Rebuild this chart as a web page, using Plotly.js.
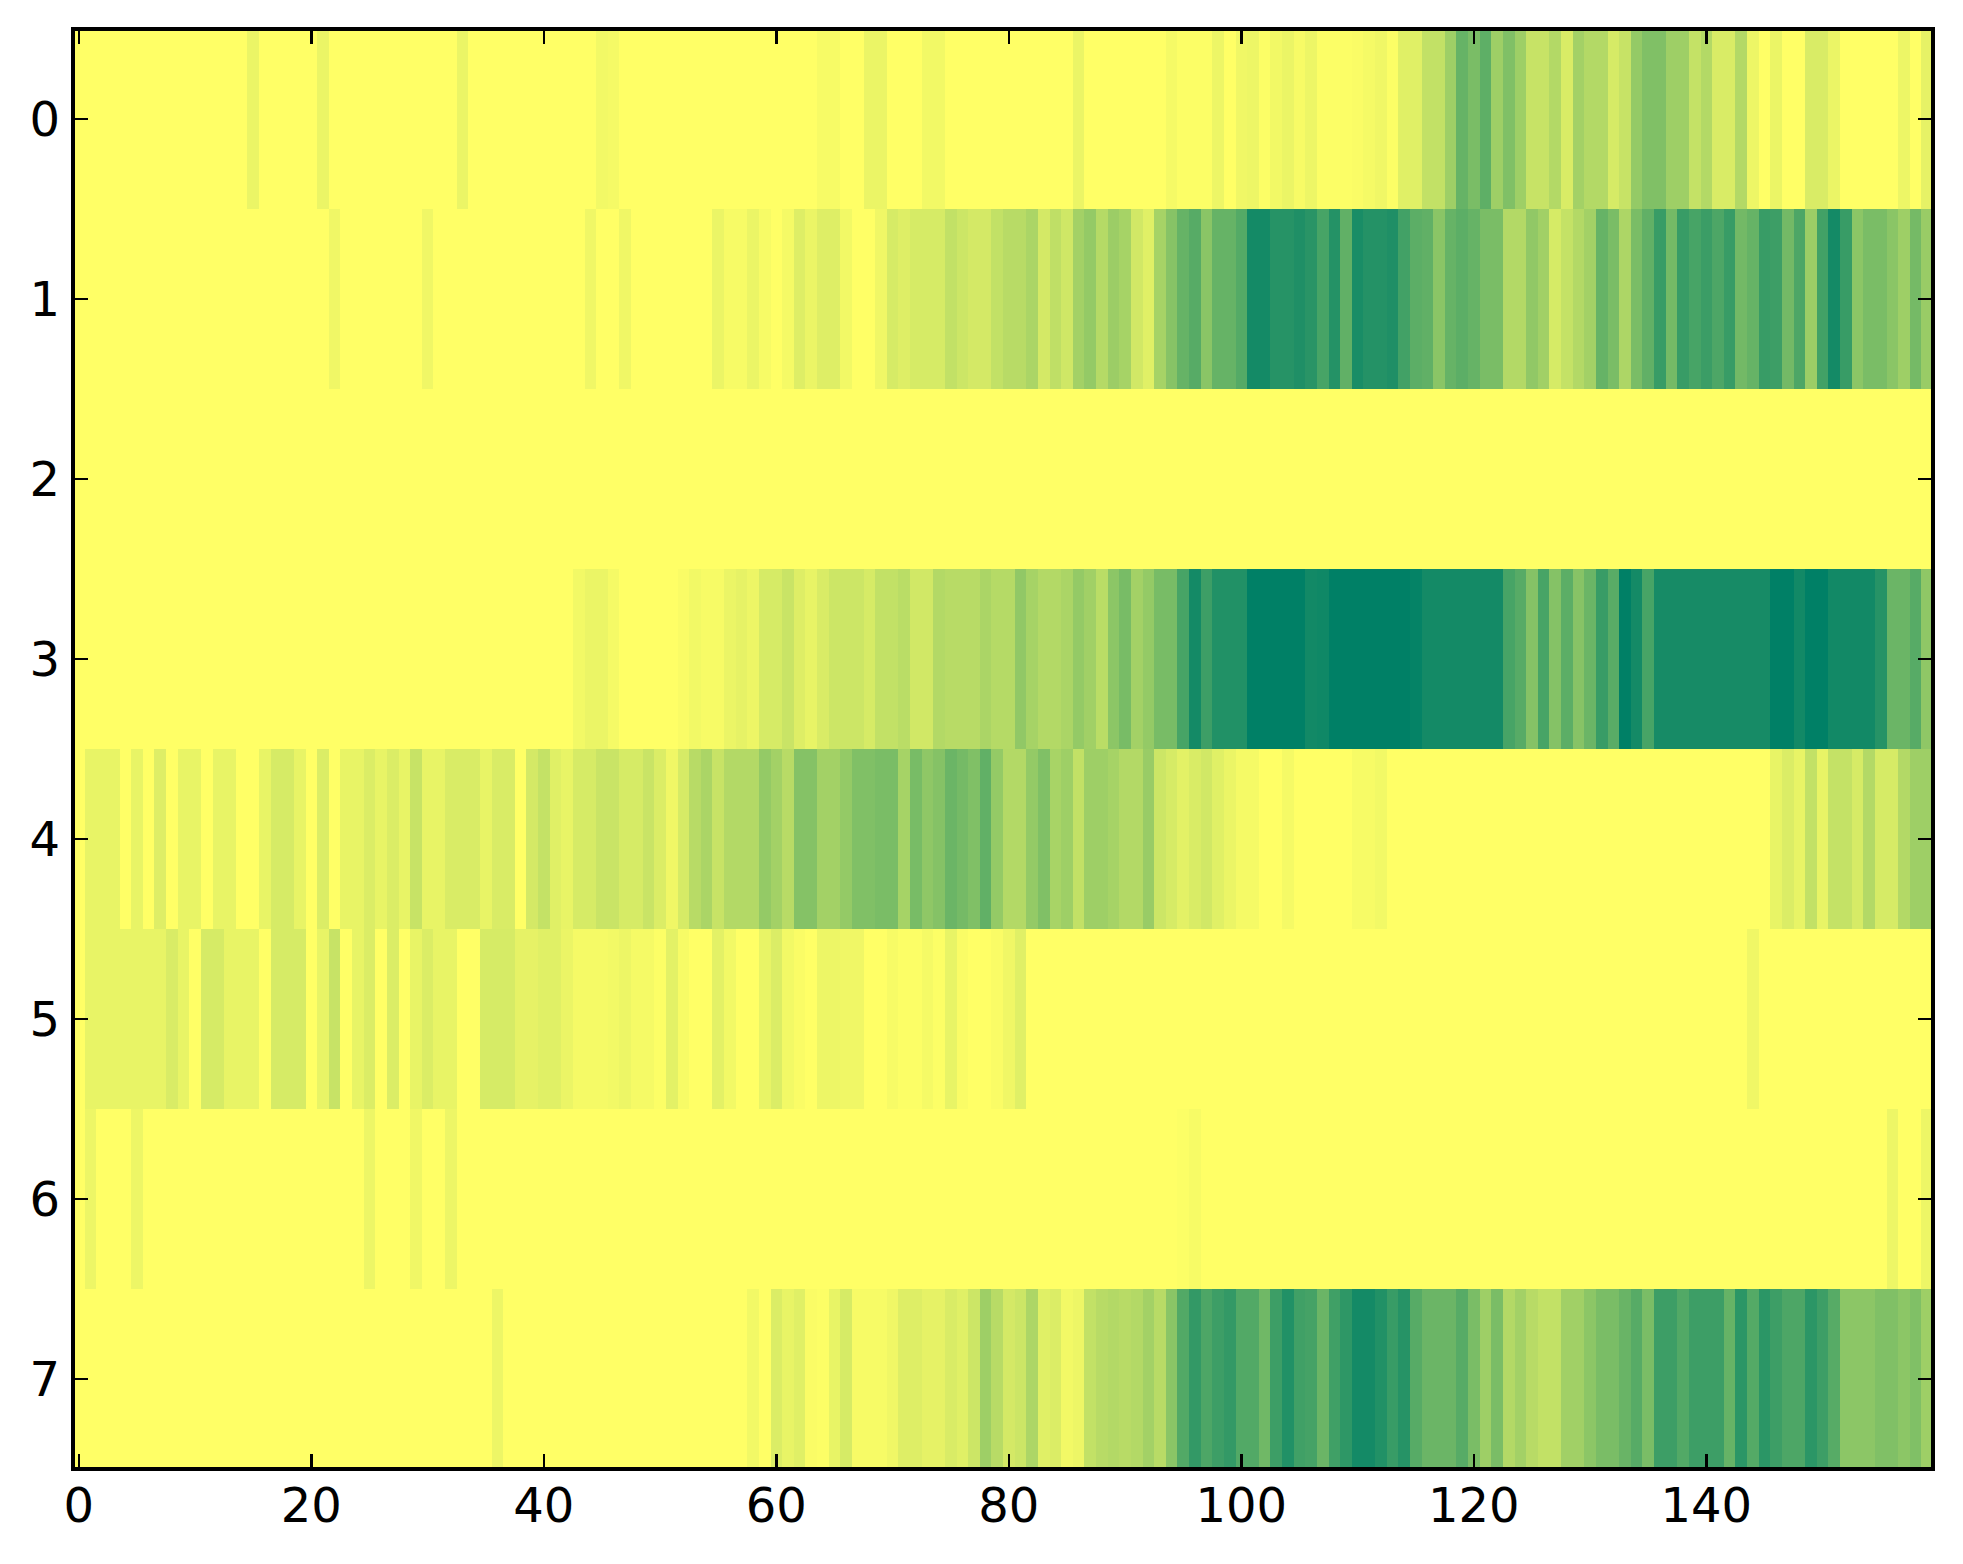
<!DOCTYPE html>
<html>
<head>
<meta charset="utf-8">
<script src="https://cdn.plot.ly/plotly-3.0.1.min.js"></script>
<style>html,body{margin:0;padding:0;background:#fff}</style>
</head>
<body>
<div id="chart" style="width:1963px;height:1564px"></div>
<script>
const xTicks = [0, 20, 40, 60, 80, 100, 120, 140];
const yTicks = [0, 1, 2, 3, 4, 5, 6, 7];
const row0 = [0,0,0,0,0,0,0,0,0,0, 0,0,0,0,0,8,0,0,0,0, 0,8,0,0,0,0,0,0,0,0, 0,0,0,8,0,0,0,0,0,0, 0,0,0,0,0,5,4,0,0,0,
  0,0,0,0,0,0,0,0,0,0, 0,0,0,0,3,3,0,0,8,8, 0,0,0,5,5,0,0,0,0,0, 0,0,0,0,0,0,8,0,0,0, 0,0,0,0,4,1,1,1,7,0,
  6,7,1,5,8,3,7,1,1,1, 2,4,6,1,12,12,24,24,38,60, 52,63,38,50,38,22,22,30,15,36, 30,30,16,22,42,50,50,38,38,23, 30,15,15,30,7,0,8,0,0,15, 15,8,0,0,0,0,0,7,0,10];
const row1 = [0,0,0,0,0,0,0,0,0,0, 0,0,0,0,0,0,0,0,0,0, 0,0,6,0,0,0,0,0,0,0, 6,0,0,0,0,0,0,0,0,0, 0,0,0,0,6,0,0,6,0,0,
  0,0,0,0,0,8,3,3,8,3, 0,4,13,8,13,13,5,0,0,6, 16,13,16,16,16,24,20,17,17,24, 28,28,33,17,25,19,36,42,29,39, 35,18,12,35,47,60,66,46,60,60,
  67,92,92,85,85,88,84,72,86,62, 90,86,86,88,74,64,62,46,60,64, 60,52,52,30,30,43,37,16,23,30, 36,60,52,32,52,62,78,54,78,72, 77,70,78,55,60,78,76,55,70,39, 74,92,78,45,52,52,46,38,54,40];
const row2 = [0,0,0,0,0,0,0,0,0,0, 0,0,0,0,0,0,0,0,0,0, 0,0,0,0,0,0,0,0,0,0, 0,0,0,0,0,0,0,0,0,0, 0,0,0,0,0,0,0,0,0,0,
  0,0,0,0,0,0,0,0,0,0, 0,0,0,0,0,0,0,0,0,0, 0,0,0,0,0,0,0,0,0,0, 0,0,0,0,0,0,0,0,0,0, 0,0,0,0,0,0,0,0,0,0,
  0,0,0,0,0,0,0,0,0,0, 0,0,0,0,0,0,0,0,0,0, 0,0,0,0,0,0,0,0,0,0, 0,0,0,0,0,0,0,0,0,0, 0,0,0,0,0,0,0,0,0,0, 0,0,0,0,0,0,0,0,0,0];
const row3 = [0,0,0,0,0,0,0,0,0,0, 0,0,0,0,0,0,0,0,0,0, 0,0,0,0,0,0,0,0,0,0, 0,0,0,0,0,0,0,0,0,0, 0,0,0,5,8,8,4,0,0,0,
  0,0,2,5,3,3,8,10,7,16, 16,21,13,9,15,20,20,20,16,24, 24,27,18,18,30,28,28,28,33,29, 29,43,35,30,30,33,42,37,27,45, 53,36,42,53,53,72,92,76,87,87,
  87,100,100,100,100,100,93,94,100,100, 100,100,100,100,100,98,92,92,92,92, 92,92,92,72,66,48,72,48,64,47, 58,78,65,100,92,72,91,91,91,91, 91,91,91,91,91,91,100,100,93,100, 100,93,93,93,93,85,58,58,66,44];
const row4 = [0,9,9,9,0,9,0,13,0,9, 9,0,9,9,0,0,9,16,16,9, 0,14,0,9,9,14,9,14,9,22, 9,9,15,15,15,9,15,15,0,17, 23,12,9,16,16,21,21,16,16,21,
  14,6,16,28,33,22,30,30,30,42, 36,28,48,48,36,36,42,50,50,52, 52,35,53,44,48,58,54,50,62,42, 30,30,42,50,34,38,24,38,38,35, 30,30,40,20,16,11,15,18,12,8,
  4,4,0,0,4,0,0,0,0,0, 3,3,5,0,0,0,0,0,0,0, 0,0,0,0,0,0,0,0,0,0, 0,0,0,0,0,0,0,0,0,0, 0,0,0,0,0,0,9,14,9,24, 9,23,23,16,30,16,16,30,38,38];
const row5 = [0,9,9,9,9,9,9,9,15,9, 0,16,16,9,9,9,0,16,16,16, 0,9,22,0,9,14,0,14,0,9, 14,9,9,0,0,16,16,16,10,10, 12,12,8,4,4,4,5,7,4,4,
  1,11,3,0,0,11,5,0,0,9, 14,5,2,0,7,7,6,6,0,0, 3,1,1,4,1,9,2,0,0,2, 6,12,0,0,0,0,0,0,0,0, 0,0,0,0,0,0,0,0,0,0,
  0,0,0,0,0,0,0,0,0,0, 0,0,0,0,0,0,0,0,0,0, 0,0,0,0,0,0,0,0,0,0, 0,0,0,0,0,0,0,0,0,0, 0,0,0,0,6,0,0,0,0,0, 0,0,0,0,0,0,0,0,0,0];
const row6 = [0,7,0,0,0,7,0,0,0,0, 0,0,0,0,0,0,0,0,0,0, 0,0,0,0,0,7,0,0,0,6, 0,0,7,0,0,0,0,0,0,0, 0,0,0,0,0,0,0,0,0,0,
  0,0,0,0,0,0,0,0,0,0, 0,0,0,0,0,0,0,0,0,0, 0,0,0,0,0,0,0,0,0,0, 0,0,0,0,0,0,0,0,0,0, 0,0,0,0,0,1,3,0,0,0,
  0,0,0,0,0,0,0,0,0,0, 0,0,0,0,0,0,0,0,0,0, 0,0,0,0,0,0,0,0,0,0, 0,0,0,0,0,0,0,0,0,0, 0,0,0,0,0,0,0,0,0,0, 0,0,0,0,0,0,7,0,0,7];
const row7 = [0,0,0,0,0,0,0,0,0,0, 0,0,0,0,0,0,0,0,0,0, 0,0,0,0,0,0,0,0,0,0, 0,0,0,0,0,0,7,0,0,0, 0,0,0,0,0,0,0,0,0,0,
  0,0,0,0,0,0,0,0,5,0, 14,9,12,2,1,9,16,3,3,3, 6,13,13,10,10,15,12,20,38,28, 17,20,32,12,14,5,7,24,28,30, 28,30,36,28,46,68,80,70,76,80,
  68,68,56,76,87,75,73,58,75,82, 92,92,87,78,85,66,58,58,58,66, 52,38,52,30,36,28,24,24,37,37, 45,52,52,59,66,52,76,76,68,76, 76,76,60,83,67,83,76,70,70,83, 76,66,45,45,45,50,50,45,50,38];

const rows = [row0, row1, row2, row3, row4, row5, row6, row7];

const axisFont = {family: 'DejaVu Sans', size: 48, color: '#000'};
const axisCommon = {
  ticks: 'inside', ticklen: 15, tickwidth: 2.5, tickcolor: '#000',
  showline: false, mirror: 'allticks', showgrid: false, zeroline: false,
  tickfont: axisFont, tickmode: 'array'
};

Plotly.newPlot('chart', [{
  type: 'heatmap',
  z: rows,
  zmin: 0, zmax: 100,
  zsmooth: false,
  showscale: false,
  hoverinfo: 'skip',
  colorscale: [[0, 'rgb(255,255,102)'], [1, 'rgb(0,128,102)']]
}], {
  width: 1963, height: 1564,
  paper_bgcolor: '#fff', plot_bgcolor: '#fff',
  margin: {l: 73, r: 29.6, t: 28.7, b: 95.3, pad: 0},
  xaxis: Object.assign({}, axisCommon, {range: [-0.5, 159.5], tickvals: xTicks, ticktext: xTicks.map(String), ticklabelstandoff: 4}),
  yaxis: Object.assign({}, axisCommon, {range: [7.5, -0.5], tickvals: yTicks, ticktext: yTicks.map(String), ticklabelstandoff: 12}),
  shapes: [{type: 'rect', xref: 'paper', yref: 'paper', x0: 0, x1: 1, y0: 0, y1: 1, layer: 'above',
            line: {color: '#000', width: 4}, fillcolor: 'rgba(0,0,0,0)'}]
}, {displayModeBar: false, staticPlot: true});
</script>
</body>
</html>
